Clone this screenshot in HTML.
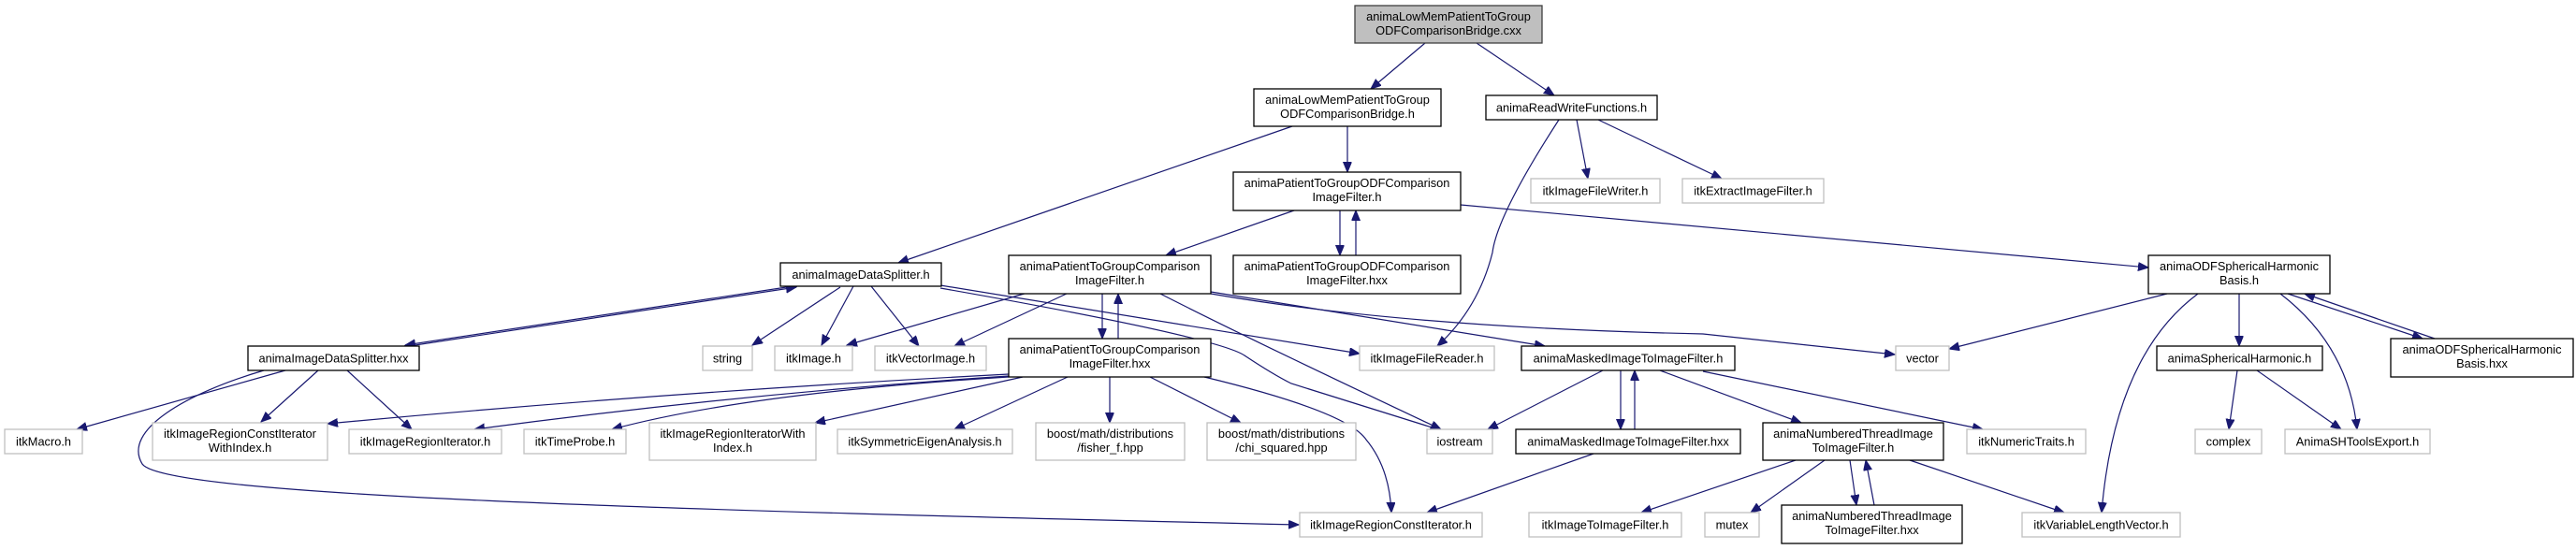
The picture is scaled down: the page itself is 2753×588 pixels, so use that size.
<!DOCTYPE html>
<html><head><meta charset="utf-8"><style>
html,body{margin:0;padding:0;background:#fff;}
svg{display:block;}
text{font-family:"Liberation Sans",Arial,sans-serif;font-size:12.8px;fill:#000;text-anchor:middle;}
.a{fill:#fff;stroke:#000;stroke-width:1.3;}
.g{fill:#fff;stroke:#bfbfbf;stroke-width:1.3;}
.e{fill:none;stroke:#191970;stroke-width:1.2;}
</style></head><body>
<svg width="2753" height="588" viewBox="0 0 2753 588" xmlns="http://www.w3.org/2000/svg">
<defs>
<marker id="m" markerUnits="userSpaceOnUse" markerWidth="12" markerHeight="10" refX="11" refY="4.5" orient="auto">
<path d="M0,0 L11,4.5 L0,9 z" fill="#191970" stroke="#191970"/>
</marker>
</defs>
<g marker-end="url(#m)">
<path class="e" d="M1523,46 L1465,95"/>
<path class="e" d="M1578,46 L1661,102"/>
<path class="e" d="M1381,135 L960,281"/>
<path class="e" d="M1440,135 L1440,184"/>
<path class="e" d="M1685,128 L1697,191"/>
<path class="e" d="M1708,128 L1840,191"/>
<path class="e" d="M1666,128 Q1600,230 1595,270 Q1580,330 1536,370"/>
<path class="e" d="M1383,225 L1246,273"/>
<path class="e" d="M1432,225 L1432,273"/>
<path class="e" d="M1449,273 L1449,225"/>
<path class="e" d="M1561,219 L2296,286"/>
<path class="e" d="M847,306 L433,369"/>
<path class="e" d="M437,370 L851,307"/>
<path class="e" d="M898,307 L804,369"/>
<path class="e" d="M912,306 L878,369"/>
<path class="e" d="M931,306 L982,370"/>
<path class="e" d="M1005,305 L1453,378"/>
<path class="e" d="M1005,308 Q1300,360 1330,380 Q1360,400 1380,410 L1540,460"/>
<path class="e" d="M305,396 L82,459"/>
<path class="e" d="M340,396 L279,451"/>
<path class="e" d="M371,396 L440,459"/>
<path class="e" d="M282,396 C200,420 130,460 152,496 C175,530 700,545 1388,561"/>
<path class="e" d="M1098,313 L905,369"/>
<path class="e" d="M1142,313 L1020,370"/>
<path class="e" d="M1178,314 L1178,362"/>
<path class="e" d="M1195,362 L1195,314"/>
<path class="e" d="M1240,314 Q1330,360 1540,459"/>
<path class="e" d="M1294,312 L1651,370"/>
<path class="e" d="M1294,314 Q1500,350 1820,357 L2025,379"/>
<path class="e" d="M1078,400 Q700,420 350,453"/>
<path class="e" d="M1078,402 Q800,420 507,459"/>
<path class="e" d="M1078,403 Q800,420 654,459"/>
<path class="e" d="M1093,403 L871,452"/>
<path class="e" d="M1141,403 L1020,459"/>
<path class="e" d="M1186,403 L1186,452"/>
<path class="e" d="M1229,403 L1326,452"/>
<path class="e" d="M1287,403 Q1440,440 1460,470 Q1485,500 1487,548"/>
<path class="e" d="M1713,396 L1590,459"/>
<path class="e" d="M1732,396 L1732,459"/>
<path class="e" d="M1747,459 L1747,396"/>
<path class="e" d="M1774,396 L1925,452"/>
<path class="e" d="M1820,397 L2119,459"/>
<path class="e" d="M1703,485 L1525,548"/>
<path class="e" d="M1919,492 L1754,548"/>
<path class="e" d="M1950,492 L1871,548"/>
<path class="e" d="M1977,492 L1984,540"/>
<path class="e" d="M2003,540 L1994,492"/>
<path class="e" d="M2041,492 L2206,548"/>
<path class="e" d="M2316,314 L2083,373"/>
<path class="e" d="M2349,314 Q2260,380 2246,548"/>
<path class="e" d="M2393,314 L2393,370"/>
<path class="e" d="M2437,314 Q2510,370 2519,459"/>
<path class="e" d="M2445,314 L2589,362"/>
<path class="e" d="M2602,362 L2463,314"/>
<path class="e" d="M2391,396 L2382,459"/>
<path class="e" d="M2412,396 L2502,459"/>
</g>

<rect x="1448" y="6" width="200" height="40" fill="#bfbfbf" stroke="#404040" stroke-width="1.3"/>
<text x="1548" y="22">animaLowMemPatientToGroup</text><text x="1548" y="37">ODFComparisonBridge.cxx</text>

<rect class="a" x="1340" y="95" width="200" height="40"/>
<text x="1440" y="111">animaLowMemPatientToGroup</text><text x="1440" y="126">ODFComparisonBridge.h</text>

<rect class="a" x="1588" y="102" width="183" height="26"/>
<text x="1679.5" y="119.5">animaReadWriteFunctions.h</text>

<rect class="a" x="1318" y="184" width="243" height="41"/>
<text x="1439.5" y="200">animaPatientToGroupODFComparison</text><text x="1439.5" y="215">ImageFilter.h</text>

<rect class="a" x="1318" y="273" width="243" height="41"/>
<text x="1439.5" y="289">animaPatientToGroupODFComparison</text><text x="1439.5" y="304">ImageFilter.hxx</text>

<rect class="a" x="1078" y="273" width="216" height="41"/>
<text x="1186" y="289">animaPatientToGroupComparison</text><text x="1186" y="304">ImageFilter.h</text>

<rect class="a" x="1078" y="362" width="216" height="41"/>
<text x="1186" y="378">animaPatientToGroupComparison</text><text x="1186" y="393">ImageFilter.hxx</text>

<rect class="g" x="1636" y="191" width="138" height="26"/>
<text x="1705" y="208.5">itkImageFileWriter.h</text>

<rect class="g" x="1798" y="191" width="151" height="26"/>
<text x="1873.5" y="208.5">itkExtractImageFilter.h</text>

<rect class="a" x="834" y="281" width="172" height="25"/>
<text x="920" y="298">animaImageDataSplitter.h</text>

<rect class="a" x="265" y="370" width="183" height="26"/>
<text x="356.5" y="387.5">animaImageDataSplitter.hxx</text>

<rect class="g" x="751" y="370" width="53" height="26"/><text x="777.5" y="387.5">string</text>
<rect class="g" x="828" y="370" width="83" height="26"/><text x="869.5" y="387.5">itkImage.h</text>
<rect class="g" x="935" y="370" width="119" height="26"/><text x="994.5" y="387.5">itkVectorImage.h</text>
<rect class="g" x="1453" y="370" width="144" height="26"/><text x="1525" y="387.5">itkImageFileReader.h</text>
<rect class="a" x="1626" y="370" width="228" height="26"/><text x="1740" y="387.5">animaMaskedImageToImageFilter.h</text>
<rect class="g" x="2026" y="370" width="57" height="26"/><text x="2054.5" y="387.5">vector</text>
<rect class="a" x="2305" y="370" width="177" height="26"/><text x="2393.5" y="387.5">animaSphericalHarmonic.h</text>

<rect class="a" x="2296" y="273" width="194" height="41"/>
<text x="2393" y="289">animaODFSphericalHarmonic</text><text x="2393" y="304">Basis.h</text>

<rect class="a" x="2555" y="362" width="195" height="41"/>
<text x="2652.5" y="378">animaODFSphericalHarmonic</text><text x="2652.5" y="393">Basis.hxx</text>

<rect class="g" x="5" y="459" width="83" height="26"/><text x="46.5" y="476.5">itkMacro.h</text>
<rect class="g" x="163" y="452" width="187" height="40"/>
<text x="256.5" y="468">itkImageRegionConstIterator</text><text x="256.5" y="483">WithIndex.h</text>
<rect class="g" x="373" y="459" width="163" height="26"/><text x="454.5" y="476.5">itkImageRegionIterator.h</text>
<rect class="g" x="560" y="459" width="109" height="26"/><text x="614.5" y="476.5">itkTimeProbe.h</text>
<rect class="g" x="694" y="452" width="178" height="40"/>
<text x="783" y="468">itkImageRegionIteratorWith</text><text x="783" y="483">Index.h</text>
<rect class="g" x="895" y="459" width="187" height="26"/><text x="988.5" y="476.5">itkSymmetricEigenAnalysis.h</text>
<rect class="g" x="1107" y="452" width="159" height="40"/>
<text x="1186.5" y="468">boost/math/distributions</text><text x="1186.5" y="483">/fisher_f.hpp</text>
<rect class="g" x="1290" y="452" width="159" height="40"/>
<text x="1369.5" y="468">boost/math/distributions</text><text x="1369.5" y="483">/chi_squared.hpp</text>
<rect class="g" x="1525" y="459" width="70" height="26"/><text x="1560" y="476.5">iostream</text>
<rect class="a" x="1620" y="459" width="240" height="26"/><text x="1740" y="476.5">animaMaskedImageToImageFilter.hxx</text>
<rect class="a" x="1884" y="452" width="193" height="40"/>
<text x="1980.5" y="468">animaNumberedThreadImage</text><text x="1980.5" y="483">ToImageFilter.h</text>
<rect class="g" x="2102" y="459" width="127" height="26"/><text x="2165.5" y="476.5">itkNumericTraits.h</text>
<rect class="g" x="2346" y="459" width="71" height="26"/><text x="2381.5" y="476.5">complex</text>
<rect class="g" x="2442" y="459" width="155" height="26"/><text x="2519.5" y="476.5">AnimaSHToolsExport.h</text>

<rect class="g" x="1389" y="548" width="195" height="26"/><text x="1486.5" y="565.5">itkImageRegionConstIterator.h</text>
<rect class="g" x="1634" y="548" width="163" height="26"/><text x="1715.5" y="565.5">itkImageToImageFilter.h</text>
<rect class="g" x="1822" y="548" width="58" height="26"/><text x="1851" y="565.5">mutex</text>
<rect class="a" x="1904" y="540" width="193" height="41"/>
<text x="2000.5" y="556">animaNumberedThreadImage</text><text x="2000.5" y="571">ToImageFilter.hxx</text>
<rect class="g" x="2161" y="548" width="169" height="26"/><text x="2245.5" y="565.5">itkVariableLengthVector.h</text>
</svg>
</body></html>
